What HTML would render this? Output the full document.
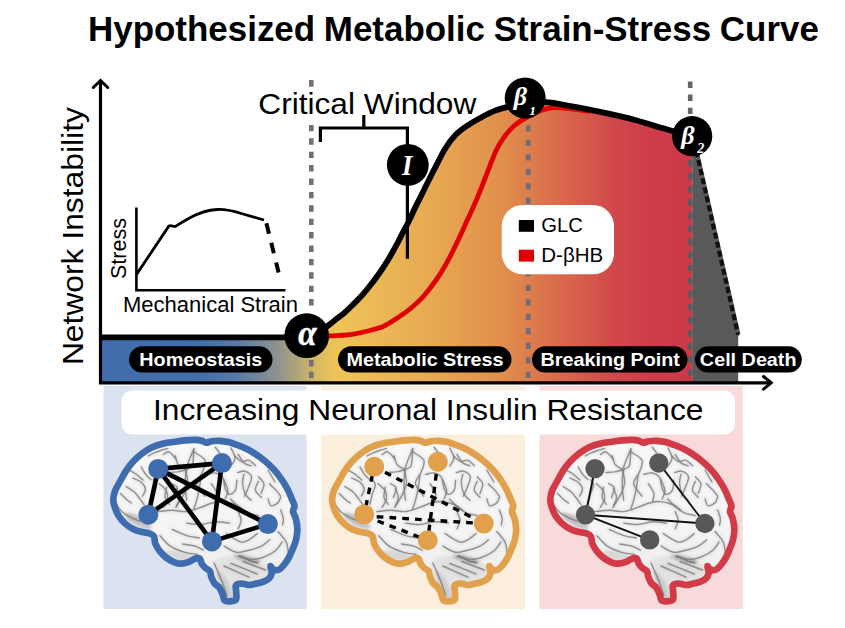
<!DOCTYPE html>
<html><head><meta charset="utf-8">
<style>
html,body{margin:0;padding:0;background:#fff;}
body{width:845px;height:628px;overflow:hidden;font-family:"Liberation Sans",sans-serif;}
svg{display:block;}
text{font-family:"Liberation Sans",sans-serif;fill:#000;}
.ser{font-family:"Liberation Serif",serif;font-weight:bold;font-style:italic;fill:#fff;}
.pill{font-weight:bold;font-size:18.9px;fill:#fff;}
</style></head><body>
<svg width="845" height="628" viewBox="0 0 845 628">
<defs>
<linearGradient id="g" gradientUnits="userSpaceOnUse" x1="100" y1="0" x2="690" y2="0">
<stop offset="0" stop-color="#426dab"/>
<stop offset="0.169" stop-color="#436eac"/>
<stop offset="0.229" stop-color="#5679a8"/>
<stop offset="0.298" stop-color="#8c9190"/>
<stop offset="0.334" stop-color="#afa578"/>
<stop offset="0.364" stop-color="#d4b864"/>
<stop offset="0.40" stop-color="#eec458"/>
<stop offset="0.55" stop-color="#e8ab52"/>
<stop offset="0.68" stop-color="#e0904c"/>
<stop offset="0.80" stop-color="#d8624c"/>
<stop offset="0.87" stop-color="#d1484b"/>
<stop offset="0.93" stop-color="#ce3c4a"/>
<stop offset="1" stop-color="#cc3848"/>
</linearGradient>
<filter id="bl" x="-10%" y="-10%" width="120%" height="120%"><feGaussianBlur stdDeviation="0.6"/></filter>
<filter id="bl2" x="-10%" y="-10%" width="120%" height="120%"><feGaussianBlur stdDeviation="1.6"/></filter>
<linearGradient id="bg" x1="0" y1="0" x2="0" y2="1"><stop offset="0" stop-color="#f8f8f8"/><stop offset="0.6" stop-color="#f4f4f4"/><stop offset="1" stop-color="#e8e8e8"/></linearGradient>
<path id="bo" d="M113.3,499.5 C113.4,496.8 114.0,493.6 115.2,490.5 C116.4,487.4 118.5,484.3 120.3,481.0 C122.1,477.7 123.9,474.0 126.0,470.8 C128.1,467.6 130.3,464.7 133.0,461.8 C135.7,458.9 138.7,456.0 141.9,453.6 C145.1,451.2 148.5,448.9 152.1,447.2 C155.7,445.5 159.8,444.3 163.6,443.4 C167.4,442.5 171.4,442.3 175.0,441.8 C178.6,441.3 181.8,440.7 185.2,440.4 C188.6,440.1 192.6,439.8 195.4,439.9 C198.2,440.0 200.0,440.3 201.8,440.8 C203.6,441.3 204.5,442.6 206.2,442.7 C207.9,442.8 209.7,441.5 211.9,441.2 C214.1,440.9 216.8,440.6 219.6,440.8 C222.4,441.0 225.6,441.4 228.5,442.1 C231.4,442.8 234.0,443.8 237.0,444.9 C240.0,446.0 243.4,447.3 246.4,448.8 C249.4,450.3 252.2,451.9 255.2,453.9 C258.2,455.8 261.3,458.0 264.3,460.5 C267.3,463.0 270.4,465.8 273.2,468.8 C276.0,471.8 278.6,475.0 280.9,478.3 C283.2,481.6 285.4,485.1 287.2,488.5 C289.0,491.9 290.5,495.8 291.7,498.7 C292.9,501.6 294.3,503.9 294.5,506.0 C294.7,508.1 292.8,509.2 293.0,511.4 C293.2,513.6 295.2,516.0 295.9,519.0 C296.6,522.0 297.4,525.8 297.4,529.2 C297.4,532.6 296.8,536.2 296.1,539.4 C295.4,542.6 294.2,545.3 293.0,548.3 C291.8,551.3 290.6,554.4 289.1,557.2 C287.6,560.0 285.8,562.8 284.0,564.9 C282.2,567.0 280.1,569.3 278.3,570.0 C276.5,570.7 274.5,569.9 273.2,569.3 C271.9,568.6 270.6,565.5 270.4,566.1 C270.1,566.8 272.0,571.1 271.7,573.2 C271.4,575.3 270.2,577.2 268.8,578.6 C267.4,580.0 265.4,581.0 263.0,581.9 C260.6,582.8 256.9,583.5 254.5,584.0 C252.2,584.5 251.1,585.1 248.9,585.0 C246.7,584.9 243.7,583.5 241.5,583.5 C239.3,583.5 236.8,584.0 235.9,585.3 C235.0,586.5 236.1,588.7 236.1,591.0 C236.1,593.3 236.9,597.6 236.1,599.3 C235.3,601.0 233.0,601.0 231.1,601.2 C229.2,601.4 226.1,601.7 224.7,600.6 C223.3,599.5 223.7,597.0 222.8,594.9 C222.0,592.8 221.0,589.8 219.6,587.9 C218.2,586.0 215.9,585.2 214.5,583.4 C213.1,581.6 212.1,579.0 211.3,577.0 C210.6,575.0 210.9,572.8 210.0,571.3 C209.1,569.8 207.0,569.4 205.6,568.1 C204.2,566.8 202.8,565.3 201.8,563.7 C200.8,562.1 200.9,559.5 199.8,558.6 C198.7,557.8 197.2,558.1 195.4,558.6 C193.6,559.1 191.3,560.9 189.0,561.8 C186.7,562.6 183.8,563.6 181.4,563.7 C179.0,563.8 177.0,563.3 174.4,562.3 C171.8,561.3 168.5,559.4 166.1,557.5 C163.7,555.6 161.6,553.4 159.8,551.1 C158.0,548.8 156.3,545.9 155.3,543.5 C154.3,541.1 154.9,538.2 154.0,536.5 C153.1,534.8 151.6,534.0 149.6,533.3 C147.6,532.5 144.7,532.7 141.9,532.0 C139.1,531.3 135.9,530.4 133.0,528.9 C130.1,527.4 127.1,525.3 124.7,523.1 C122.3,520.9 120.1,518.2 118.4,515.5 C116.7,512.8 115.4,509.3 114.6,506.6 C113.8,503.9 113.2,502.2 113.3,499.5 Z"/>
<clipPath id="bc"><use href="#bo"/></clipPath>
<g id="brain">
<use href="#bo" fill="url(#bg)"/>
<g clip-path="url(#bc)">
<g filter="url(#bl2)"><path d="M215.8,560.6 C217.1,558.3 223.8,556.7 228.0,556.0 C232.2,555.3 236.2,555.9 240.7,556.4 C245.2,556.9 250.9,557.6 255.0,559.0 C259.1,560.4 263.2,562.5 265.5,564.7 C267.8,566.9 269.4,569.5 269.0,572.0 C268.6,574.5 265.7,578.1 263.0,580.0 C260.3,581.9 257.4,582.8 253.0,583.5 C248.6,584.2 240.8,585.0 236.5,584.4 C232.2,583.8 229.8,582.4 227.0,580.0 C224.2,577.6 221.9,573.2 220.0,570.0 C218.1,566.8 214.5,562.9 215.8,560.6 Z" fill="#e3e3e3"/>
<path d="M218.0,570.0 C219.3,569.8 222.8,574.4 225.0,577.0 C227.2,579.6 229.5,581.9 231.0,585.4 C232.5,588.9 234.3,595.3 234.0,598.0 C233.7,600.7 230.5,601.3 229.0,601.5 C227.5,601.7 226.2,601.2 225.0,599.0 C223.8,596.8 223.3,591.5 222.0,588.0 C220.7,584.5 217.7,581.0 217.0,578.0 C216.3,575.0 216.7,570.2 218.0,570.0 Z" fill="#d0d0d0"/>
<ellipse cx="138" cy="521" rx="15" ry="5" transform="rotate(28 138 521)" fill="#b0b0b0" fill-opacity="0.7"/>
<ellipse cx="178" cy="556" rx="16" ry="4" transform="rotate(12 178 556)" fill="#bdbdbd" fill-opacity="0.5"/>
<ellipse cx="247" cy="559" rx="14" ry="3" transform="rotate(12 247 559)" fill="#9a9a9a" fill-opacity="0.6"/></g>
<g filter="url(#bl2)" fill="none" stroke="#909090" stroke-width="3.2" stroke-opacity="0.2" stroke-linecap="round"><path d="M193.8,448.6 C193.6,451.5 193.6,462.2 192.4,465.8 C191.2,469.4 187.9,466.8 186.7,470.1 C185.5,473.4 185.2,480.8 185.2,485.8 C185.2,490.8 186.5,497.8 186.7,500.2"/>
<path d="M175.2,455.8 C175.7,457.2 176.4,462.1 178.1,464.4 C179.8,466.7 184.0,468.6 185.2,469.4"/>
<path d="M201.0,475.8 C200.8,477.7 200.2,483.2 199.5,487.3 C198.8,491.4 197.7,496.6 196.7,500.2 C195.8,503.8 194.3,507.4 193.8,508.8"/>
<path d="M206.7,474.4 C208.1,474.2 212.7,472.5 215.3,473.0 C217.9,473.5 220.8,474.6 222.5,477.2 C224.2,479.8 224.1,485.8 225.3,488.7 C226.5,491.6 227.9,494.2 229.6,494.4 C231.3,494.6 234.2,492.5 235.4,490.1 C236.6,487.7 236.6,481.8 236.8,480.1"/>
<path d="M244.0,474.4 C243.8,475.8 242.3,479.7 242.5,483.0 C242.7,486.3 244.0,491.5 245.4,494.4 C246.8,497.3 250.2,499.2 251.1,500.2"/>
<path d="M158.0,511.6 C160.4,511.4 167.5,510.2 172.3,510.2 C177.1,510.2 181.9,512.1 186.7,511.6 C191.5,511.1 196.7,508.7 201.0,507.3 C205.3,505.9 208.6,503.9 212.4,503.0 C216.2,502.1 220.1,501.4 223.9,501.6 C227.7,501.9 232.0,503.1 235.4,504.5 C238.7,505.9 242.6,509.2 244.0,510.2"/>
<path d="M166.6,487.3 C166.4,489.0 164.7,494.4 165.2,497.3 C165.7,500.2 168.8,503.3 169.5,504.5"/>
<path d="M176.6,488.7 C177.1,490.1 179.5,494.4 179.5,497.3 C179.5,500.2 177.1,504.5 176.6,505.9"/>
<path d="M215.3,447.2 C216.0,448.1 218.9,451.9 219.6,452.9"/>
<path d="M238.2,454.3 C239.2,455.7 241.8,461.0 244.0,462.9 C246.2,464.8 249.9,465.3 251.1,465.8"/>
<path d="M258.3,481.5 C257.8,482.9 254.9,487.5 255.4,490.1 C255.9,492.7 260.2,496.1 261.2,497.3"/>
<path d="M186.7,523.1 C189.1,523.3 196.2,524.7 201.0,524.5 C205.8,524.3 210.5,521.9 215.3,521.7 C220.1,521.5 227.2,522.9 229.6,523.1"/>
<path d="M238.2,511.6 C238.7,513.0 241.1,517.3 241.1,520.2 C241.1,523.1 238.7,527.4 238.2,528.8"/>
<path d="M168.9,472.6 C170.3,472.5 174.5,472.3 177.3,471.9 C180.1,471.4 184.2,470.2 185.6,469.9"/>
<path d="M185.6,469.9 C186.3,468.0 188.3,462.3 189.7,458.8 C191.1,455.3 193.2,450.7 193.9,449.1"/>
<path d="M185.6,469.9 C185.9,472.0 187.8,478.4 187.6,482.3 C187.4,486.2 186.2,489.2 184.2,493.4 C182.3,497.6 177.3,505.0 175.9,507.3"/>
<path d="M163.4,454.6 C164.3,454.2 166.8,451.2 168.9,451.9 C171.0,452.6 174.7,457.6 175.9,458.8"/>
<path d="M193.9,451.9 C195.7,453.3 203.6,456.8 205.0,460.2 C206.4,463.6 203.6,468.7 202.2,472.6 C200.8,476.5 196.1,479.8 196.6,483.7 C197.1,487.6 203.6,494.1 205.0,496.2"/>
<path d="M148.2,456.0 C149.1,455.5 151.6,454.1 153.7,453.2 C155.8,452.3 158.3,451.3 160.6,450.5 C162.9,449.7 166.4,448.8 167.6,448.4"/>
<path d="M141.2,467.1 C141.9,468.2 143.8,471.9 145.4,474.0 C147.0,476.1 150.0,478.7 150.9,479.6"/>
<path d="M132.9,478.2 C134.3,478.9 139.1,480.5 141.2,482.3 C143.3,484.1 145.2,486.9 145.4,489.2 C145.6,491.5 143.1,495.0 142.6,496.2"/>
<path d="M126.0,486.5 C127.4,487.4 132.0,489.9 134.3,492.0 C136.6,494.1 138.3,496.8 139.9,498.9 C141.5,501.0 143.3,503.6 144.0,504.5"/>
<path d="M120.5,493.4 C121.4,494.3 124.2,497.3 126.0,498.9 C127.8,500.5 130.6,502.4 131.5,503.1"/>
<path d="M159.2,483.7 C160.4,484.9 164.8,488.1 166.2,490.6 C167.6,493.1 168.1,496.1 167.6,498.9 C167.1,501.7 164.1,505.9 163.4,507.3"/>
<path d="M153.7,479.6 C154.2,480.5 156.5,482.8 156.5,485.1 C156.5,487.4 154.6,490.2 153.7,493.4 C152.8,496.6 151.4,502.6 150.9,504.5"/>
<path d="M171.7,483.7 C172.6,484.4 176.8,485.6 177.3,487.9 C177.8,490.2 175.0,496.0 174.5,497.6"/>
<path d="M116.3,504.5 C117.4,505.9 120.4,510.5 123.2,512.8 C126.0,515.1 130.1,516.9 132.9,518.3 C135.7,519.7 138.7,520.6 139.9,521.1"/>
<path d="M129.0,470.0 C130.2,470.7 133.7,472.3 136.0,474.0 C138.3,475.7 141.8,479.0 143.0,480.0"/>
<path d="M234.9,456.0 C236.0,456.9 239.5,460.8 241.8,461.5 C244.1,462.2 246.4,459.5 248.7,460.2 C251.0,460.9 254.5,464.8 255.6,465.7"/>
<path d="M237.6,472.6 C238.8,472.4 242.3,470.5 244.6,471.2 C246.9,471.9 250.8,474.2 251.5,476.8 C252.2,479.4 249.9,483.3 248.7,486.5 C247.6,489.7 245.3,494.6 244.6,496.2"/>
<path d="M223.8,479.6 C224.5,481.4 227.7,487.4 227.9,490.6 C228.1,493.8 225.7,497.5 225.2,498.9"/>
<path d="M258.4,476.8 C259.3,477.9 263.4,480.9 263.9,483.7 C264.4,486.5 261.7,491.8 261.2,493.4"/>
<path d="M268.1,498.9 C268.6,500.0 269.3,505.0 270.9,505.7 C272.5,506.4 276.2,504.4 277.8,503.0 C279.4,501.6 280.1,498.3 280.6,497.4"/>
<path d="M269.5,483.7 C270.6,484.9 274.5,488.5 276.4,490.6 C278.2,492.7 279.9,495.3 280.6,496.2"/>
<path d="M211.3,483.7 C212.2,485.3 216.2,490.4 216.9,493.4 C217.6,496.4 215.7,500.3 215.5,501.7"/>
<path d="M230.7,498.9 C232.1,500.3 236.2,505.0 239.0,507.3 C241.8,509.6 244.1,511.4 247.3,512.8 C250.5,514.2 256.5,515.1 258.4,515.6"/>
<path d="M280.6,510.0 C281.1,511.4 283.0,515.8 283.3,518.3 C283.6,520.8 282.7,523.9 282.6,525.0"/>
<path d="M231.0,448.0 C231.7,449.7 235.0,455.0 235.0,458.0 C235.0,461.0 231.7,464.7 231.0,466.0"/>
<path d="M268.0,470.0 C269.2,472.0 273.8,480.0 275.0,482.0"/>
<path d="M159.9,535.7 C161.6,537.4 166.1,543.3 170.3,546.1 C174.4,548.9 180.3,550.9 184.8,552.3 C189.3,553.7 195.1,554.0 197.2,554.3"/>
<path d="M172.3,529.5 C174.7,530.5 182.3,534.3 186.8,535.7 C191.3,537.1 197.2,537.4 199.3,537.8"/>
<path d="M182.7,544.0 C184.8,544.4 191.7,545.1 195.1,546.1 C198.6,547.1 202.0,549.5 203.4,550.2"/>
<path d="M226.2,533.6 C228.6,535.0 236.9,540.9 240.7,541.9 C244.5,542.9 246.2,541.2 249.0,539.8 C251.8,538.4 255.8,534.6 257.2,533.6"/>
<path d="M224.1,546.1 C226.2,547.1 232.3,551.6 236.5,552.3 C240.7,553.0 244.8,551.2 249.0,550.2 C253.2,549.2 257.9,547.8 261.4,546.1 C264.8,544.4 268.3,540.8 269.7,539.8"/>
<path d="M238.6,556.4 C241.0,556.9 248.6,559.5 253.1,559.5 C257.6,559.5 261.7,557.9 265.5,556.4 C269.3,554.9 273.1,552.6 275.9,550.2 C278.7,547.8 281.1,543.3 282.1,541.9"/>
<path d="M278.0,531.6 C279.4,533.3 284.5,538.5 286.2,541.9 C287.9,545.3 287.9,550.6 288.3,552.3"/>
<path d="M224.0,566.0 C228.2,567.9 244.8,575.2 249.0,577.1"/>
<path d="M231.0,563.5 C235.4,565.2 252.8,572.2 257.2,574.0"/>
<path d="M243.0,561.5 C246.8,562.9 261.8,568.6 265.5,570.0"/>
<path d="M239.5,556.0 C240.4,556.3 242.8,557.1 244.7,558.0 C246.7,558.9 249.0,560.5 251.2,561.3 C253.4,562.1 256.6,562.4 257.7,562.6"/>
<path d="M239.5,556.0 C240.4,556.3 242.8,557.1 244.7,558.0 C246.7,558.9 249.0,560.5 251.2,561.3 C253.4,562.1 256.6,562.4 257.7,562.6"/>
<path d="M214.0,563.0 C214.7,564.5 216.5,568.5 218.0,572.0 C219.5,575.5 221.5,580.0 223.0,584.0 C224.5,588.0 226.3,594.0 227.0,596.0"/></g>
<g filter="url(#bl)" fill="none" stroke="#7a7a7a" stroke-width="1.4" stroke-opacity="0.8" stroke-linecap="round"><path d="M193.8,448.6 C193.6,451.5 193.6,462.2 192.4,465.8 C191.2,469.4 187.9,466.8 186.7,470.1 C185.5,473.4 185.2,480.8 185.2,485.8 C185.2,490.8 186.5,497.8 186.7,500.2"/>
<path d="M175.2,455.8 C175.7,457.2 176.4,462.1 178.1,464.4 C179.8,466.7 184.0,468.6 185.2,469.4"/>
<path d="M201.0,475.8 C200.8,477.7 200.2,483.2 199.5,487.3 C198.8,491.4 197.7,496.6 196.7,500.2 C195.8,503.8 194.3,507.4 193.8,508.8"/>
<path d="M206.7,474.4 C208.1,474.2 212.7,472.5 215.3,473.0 C217.9,473.5 220.8,474.6 222.5,477.2 C224.2,479.8 224.1,485.8 225.3,488.7 C226.5,491.6 227.9,494.2 229.6,494.4 C231.3,494.6 234.2,492.5 235.4,490.1 C236.6,487.7 236.6,481.8 236.8,480.1"/>
<path d="M244.0,474.4 C243.8,475.8 242.3,479.7 242.5,483.0 C242.7,486.3 244.0,491.5 245.4,494.4 C246.8,497.3 250.2,499.2 251.1,500.2"/>
<path d="M158.0,511.6 C160.4,511.4 167.5,510.2 172.3,510.2 C177.1,510.2 181.9,512.1 186.7,511.6 C191.5,511.1 196.7,508.7 201.0,507.3 C205.3,505.9 208.6,503.9 212.4,503.0 C216.2,502.1 220.1,501.4 223.9,501.6 C227.7,501.9 232.0,503.1 235.4,504.5 C238.7,505.9 242.6,509.2 244.0,510.2"/>
<path d="M166.6,487.3 C166.4,489.0 164.7,494.4 165.2,497.3 C165.7,500.2 168.8,503.3 169.5,504.5"/>
<path d="M176.6,488.7 C177.1,490.1 179.5,494.4 179.5,497.3 C179.5,500.2 177.1,504.5 176.6,505.9"/>
<path d="M215.3,447.2 C216.0,448.1 218.9,451.9 219.6,452.9"/>
<path d="M238.2,454.3 C239.2,455.7 241.8,461.0 244.0,462.9 C246.2,464.8 249.9,465.3 251.1,465.8"/>
<path d="M258.3,481.5 C257.8,482.9 254.9,487.5 255.4,490.1 C255.9,492.7 260.2,496.1 261.2,497.3"/>
<path d="M186.7,523.1 C189.1,523.3 196.2,524.7 201.0,524.5 C205.8,524.3 210.5,521.9 215.3,521.7 C220.1,521.5 227.2,522.9 229.6,523.1"/>
<path d="M238.2,511.6 C238.7,513.0 241.1,517.3 241.1,520.2 C241.1,523.1 238.7,527.4 238.2,528.8"/>
<path d="M168.9,472.6 C170.3,472.5 174.5,472.3 177.3,471.9 C180.1,471.4 184.2,470.2 185.6,469.9"/>
<path d="M185.6,469.9 C186.3,468.0 188.3,462.3 189.7,458.8 C191.1,455.3 193.2,450.7 193.9,449.1"/>
<path d="M185.6,469.9 C185.9,472.0 187.8,478.4 187.6,482.3 C187.4,486.2 186.2,489.2 184.2,493.4 C182.3,497.6 177.3,505.0 175.9,507.3"/>
<path d="M163.4,454.6 C164.3,454.2 166.8,451.2 168.9,451.9 C171.0,452.6 174.7,457.6 175.9,458.8"/>
<path d="M193.9,451.9 C195.7,453.3 203.6,456.8 205.0,460.2 C206.4,463.6 203.6,468.7 202.2,472.6 C200.8,476.5 196.1,479.8 196.6,483.7 C197.1,487.6 203.6,494.1 205.0,496.2"/>
<path d="M148.2,456.0 C149.1,455.5 151.6,454.1 153.7,453.2 C155.8,452.3 158.3,451.3 160.6,450.5 C162.9,449.7 166.4,448.8 167.6,448.4"/>
<path d="M141.2,467.1 C141.9,468.2 143.8,471.9 145.4,474.0 C147.0,476.1 150.0,478.7 150.9,479.6"/>
<path d="M132.9,478.2 C134.3,478.9 139.1,480.5 141.2,482.3 C143.3,484.1 145.2,486.9 145.4,489.2 C145.6,491.5 143.1,495.0 142.6,496.2"/>
<path d="M126.0,486.5 C127.4,487.4 132.0,489.9 134.3,492.0 C136.6,494.1 138.3,496.8 139.9,498.9 C141.5,501.0 143.3,503.6 144.0,504.5"/>
<path d="M120.5,493.4 C121.4,494.3 124.2,497.3 126.0,498.9 C127.8,500.5 130.6,502.4 131.5,503.1"/>
<path d="M159.2,483.7 C160.4,484.9 164.8,488.1 166.2,490.6 C167.6,493.1 168.1,496.1 167.6,498.9 C167.1,501.7 164.1,505.9 163.4,507.3"/>
<path d="M153.7,479.6 C154.2,480.5 156.5,482.8 156.5,485.1 C156.5,487.4 154.6,490.2 153.7,493.4 C152.8,496.6 151.4,502.6 150.9,504.5"/>
<path d="M171.7,483.7 C172.6,484.4 176.8,485.6 177.3,487.9 C177.8,490.2 175.0,496.0 174.5,497.6"/>
<path d="M116.3,504.5 C117.4,505.9 120.4,510.5 123.2,512.8 C126.0,515.1 130.1,516.9 132.9,518.3 C135.7,519.7 138.7,520.6 139.9,521.1"/>
<path d="M129.0,470.0 C130.2,470.7 133.7,472.3 136.0,474.0 C138.3,475.7 141.8,479.0 143.0,480.0"/>
<path d="M234.9,456.0 C236.0,456.9 239.5,460.8 241.8,461.5 C244.1,462.2 246.4,459.5 248.7,460.2 C251.0,460.9 254.5,464.8 255.6,465.7"/>
<path d="M237.6,472.6 C238.8,472.4 242.3,470.5 244.6,471.2 C246.9,471.9 250.8,474.2 251.5,476.8 C252.2,479.4 249.9,483.3 248.7,486.5 C247.6,489.7 245.3,494.6 244.6,496.2"/>
<path d="M223.8,479.6 C224.5,481.4 227.7,487.4 227.9,490.6 C228.1,493.8 225.7,497.5 225.2,498.9"/>
<path d="M258.4,476.8 C259.3,477.9 263.4,480.9 263.9,483.7 C264.4,486.5 261.7,491.8 261.2,493.4"/>
<path d="M268.1,498.9 C268.6,500.0 269.3,505.0 270.9,505.7 C272.5,506.4 276.2,504.4 277.8,503.0 C279.4,501.6 280.1,498.3 280.6,497.4"/>
<path d="M269.5,483.7 C270.6,484.9 274.5,488.5 276.4,490.6 C278.2,492.7 279.9,495.3 280.6,496.2"/>
<path d="M211.3,483.7 C212.2,485.3 216.2,490.4 216.9,493.4 C217.6,496.4 215.7,500.3 215.5,501.7"/>
<path d="M230.7,498.9 C232.1,500.3 236.2,505.0 239.0,507.3 C241.8,509.6 244.1,511.4 247.3,512.8 C250.5,514.2 256.5,515.1 258.4,515.6"/>
<path d="M280.6,510.0 C281.1,511.4 283.0,515.8 283.3,518.3 C283.6,520.8 282.7,523.9 282.6,525.0"/>
<path d="M231.0,448.0 C231.7,449.7 235.0,455.0 235.0,458.0 C235.0,461.0 231.7,464.7 231.0,466.0"/>
<path d="M268.0,470.0 C269.2,472.0 273.8,480.0 275.0,482.0"/>
<path d="M159.9,535.7 C161.6,537.4 166.1,543.3 170.3,546.1 C174.4,548.9 180.3,550.9 184.8,552.3 C189.3,553.7 195.1,554.0 197.2,554.3"/>
<path d="M172.3,529.5 C174.7,530.5 182.3,534.3 186.8,535.7 C191.3,537.1 197.2,537.4 199.3,537.8"/>
<path d="M182.7,544.0 C184.8,544.4 191.7,545.1 195.1,546.1 C198.6,547.1 202.0,549.5 203.4,550.2"/>
<path d="M226.2,533.6 C228.6,535.0 236.9,540.9 240.7,541.9 C244.5,542.9 246.2,541.2 249.0,539.8 C251.8,538.4 255.8,534.6 257.2,533.6"/>
<path d="M224.1,546.1 C226.2,547.1 232.3,551.6 236.5,552.3 C240.7,553.0 244.8,551.2 249.0,550.2 C253.2,549.2 257.9,547.8 261.4,546.1 C264.8,544.4 268.3,540.8 269.7,539.8"/>
<path d="M238.6,556.4 C241.0,556.9 248.6,559.5 253.1,559.5 C257.6,559.5 261.7,557.9 265.5,556.4 C269.3,554.9 273.1,552.6 275.9,550.2 C278.7,547.8 281.1,543.3 282.1,541.9"/>
<path d="M278.0,531.6 C279.4,533.3 284.5,538.5 286.2,541.9 C287.9,545.3 287.9,550.6 288.3,552.3"/>
<path d="M224.0,566.0 C228.2,567.9 244.8,575.2 249.0,577.1"/>
<path d="M231.0,563.5 C235.4,565.2 252.8,572.2 257.2,574.0"/>
<path d="M243.0,561.5 C246.8,562.9 261.8,568.6 265.5,570.0"/>
<path d="M239.5,556.0 C240.4,556.3 242.8,557.1 244.7,558.0 C246.7,558.9 249.0,560.5 251.2,561.3 C253.4,562.1 256.6,562.4 257.7,562.6"/>
<path d="M239.5,556.0 C240.4,556.3 242.8,557.1 244.7,558.0 C246.7,558.9 249.0,560.5 251.2,561.3 C253.4,562.1 256.6,562.4 257.7,562.6"/>
<path d="M214.0,563.0 C214.7,564.5 216.5,568.5 218.0,572.0 C219.5,575.5 221.5,580.0 223.0,584.0 C224.5,588.0 226.3,594.0 227.0,596.0"/></g>
</g>
</g>
</defs>

<!-- title -->
<text x="88" y="40.5" font-size="34.95" word-spacing="-1.0" font-weight="bold">Hypothesized Metabolic Strain-Stress Curve</text>

<!-- panels -->
<rect x="103.5" y="386" width="203" height="223" fill="#dbe3f0"/>
<rect x="321.3" y="386" width="203.7" height="223" fill="#fbeedd"/>
<rect x="539.5" y="386" width="203.3" height="223" fill="#f9dadb"/>
<rect x="121.5" y="390.5" width="613.5" height="44" rx="11" fill="#fff"/>
<text transform="translate(153,419.6) scale(1.046,1)" font-size="30.35">Increasing Neuronal Insulin Resistance</text>

<!-- filled area -->
<path id="area" d="M100,337.3 L306.5,337.3 C308.4,336.6 314.4,334.8 318.0,332.8 C321.6,330.9 325.0,327.9 328.0,325.6 C331.0,323.4 333.4,321.4 336.0,319.3 C338.6,317.2 341.3,315.4 343.9,313.2 C346.5,311.0 348.9,308.6 351.5,306.0 C354.1,303.4 357.1,300.7 359.8,297.8 C362.5,294.9 364.9,292.1 367.8,288.5 C370.7,284.9 374.1,280.5 377.0,276.5 C379.9,272.5 382.6,268.4 385.1,264.6 C387.6,260.8 389.7,257.2 391.8,253.5 C393.9,249.8 395.9,246.0 397.9,242.3 C399.8,238.6 401.8,234.5 403.5,231.2 C405.2,227.9 406.1,226.6 408.2,222.5 C410.2,218.4 412.9,212.3 415.8,206.4 C418.7,200.5 422.1,193.7 425.3,187.3 C428.5,180.9 431.5,174.7 434.9,168.2 C438.2,161.7 441.9,153.8 445.4,148.2 C448.9,142.6 452.3,138.3 455.9,134.6 C459.5,130.9 462.6,128.8 467.0,125.8 C471.4,122.8 477.7,119.2 482.4,116.7 C487.1,114.2 491.1,112.2 495.1,110.6 C499.1,109.0 501.6,108.3 506.6,107.1 C511.6,105.9 518.7,104.0 525.0,103.2 C531.3,102.4 536.5,101.5 544.3,102.0 C552.1,102.5 562.1,104.5 572.0,106.3 C581.9,108.1 593.2,110.4 603.9,112.7 C614.5,115.0 626.7,117.8 635.9,120.2 C645.1,122.6 653.1,125.4 659.3,127.2 C665.5,129.0 667.8,129.6 673.2,131.2 C678.7,132.8 688.9,135.6 692.0,136.5 L692.4,382 L100,382 Z" fill="url(#g)"/>
<path d="M692.2,140 L697.5,146 L740.2,333 L738.2,337 L738.2,382 L692.2,382 Z" fill="#595959"/>

<!-- dashed verticals -->
<g stroke="#776d72" stroke-width="4.6" fill="none">
<line x1="311.3" y1="80" x2="311.3" y2="86.7"/>
<line x1="311.3" y1="124.9" x2="311.3" y2="306" stroke-dasharray="6.4 7"/>
<line x1="311.3" y1="360" x2="311.3" y2="366.5" stroke="#74707c"/>
<line x1="311.3" y1="371.7" x2="311.3" y2="378.2" stroke="#74707c"/>
<line x1="528.2" y1="125.2" x2="528.2" y2="381" stroke="#6e6e7c" stroke-dasharray="6.4 8.1"/>
<line x1="690.2" y1="81.5" x2="690.2" y2="120" stroke="#6a6267" stroke-dasharray="6.4 6.7"/>
<line x1="690.2" y1="160" x2="690.2" y2="381" stroke="#5d5b5d" stroke-dasharray="6.4 6.7"/>
</g>
<!-- red curve -->
<path d="M306.5,336.3 C310.6,336.2 323.6,336.1 331.2,335.8 C338.8,335.5 345.8,335.1 351.9,334.3 C358.0,333.5 362.5,332.4 367.8,331.0 C373.1,329.6 378.6,328.4 383.7,326.2 C388.8,323.9 393.5,320.5 398.1,317.5 C402.7,314.5 406.8,311.7 411.1,308.0 C415.5,304.3 419.6,300.8 424.2,295.5 C428.8,290.2 434.6,282.3 438.6,276.4 C442.6,270.5 445.0,266.1 448.2,260.2 C451.4,254.3 454.5,247.8 457.7,241.1 C460.9,234.4 464.1,227.1 467.3,220.1 C470.5,213.1 473.8,206.2 476.8,199.1 C479.8,192.0 482.2,185.5 485.4,177.5 C488.6,169.5 492.8,157.7 495.9,151.0 C499.0,144.3 501.2,141.3 503.9,137.5 C506.6,133.7 509.2,130.6 511.9,127.9 C514.5,125.2 517.1,123.3 519.8,121.5 C522.4,119.7 525.3,118.4 527.8,117.0 C530.3,115.6 532.4,114.2 535.0,113.0 C537.6,111.8 540.5,110.4 543.6,109.5 C546.7,108.6 548.9,107.7 553.6,107.6 C558.3,107.5 565.9,108.1 572.0,108.8 C578.1,109.5 587.0,111.0 590.0,111.5" fill="none" stroke="#e00000" stroke-width="4.8"/>

<!-- black curve -->
<path d="M100,337.3 L306.5,337.3 C308.4,336.6 314.4,334.8 318.0,332.8 C321.6,330.9 325.0,327.9 328.0,325.6 C331.0,323.4 333.4,321.4 336.0,319.3 C338.6,317.2 341.3,315.4 343.9,313.2 C346.5,311.0 348.9,308.6 351.5,306.0 C354.1,303.4 357.1,300.7 359.8,297.8 C362.5,294.9 364.9,292.1 367.8,288.5 C370.7,284.9 374.1,280.5 377.0,276.5 C379.9,272.5 382.6,268.4 385.1,264.6 C387.6,260.8 389.7,257.2 391.8,253.5 C393.9,249.8 395.9,246.0 397.9,242.3 C399.8,238.6 401.8,234.5 403.5,231.2 C405.2,227.9 406.1,226.6 408.2,222.5 C410.2,218.4 412.9,212.3 415.8,206.4 C418.7,200.5 422.1,193.7 425.3,187.3 C428.5,180.9 431.5,174.7 434.9,168.2 C438.2,161.7 441.9,153.8 445.4,148.2 C448.9,142.6 452.3,138.3 455.9,134.6 C459.5,130.9 462.6,128.8 467.0,125.8 C471.4,122.8 477.7,119.2 482.4,116.7 C487.1,114.2 491.1,112.2 495.1,110.6 C499.1,109.0 501.6,108.3 506.6,107.1 C511.6,105.9 518.7,104.0 525.0,103.2 C531.3,102.4 536.5,101.5 544.3,102.0 C552.1,102.5 562.1,104.5 572.0,106.3 C581.9,108.1 593.2,110.4 603.9,112.7 C614.5,115.0 626.7,117.8 635.9,120.2 C645.1,122.6 653.1,125.4 659.3,127.2 C665.5,129.0 667.8,129.6 673.2,131.2 C678.7,132.8 688.9,135.6 692.0,136.5" fill="none" stroke="#000" stroke-width="5.8" stroke-linejoin="round"/>
<path d="M696.3,151 L738.1,334.6" fill="none" stroke="#111" stroke-width="4.2" stroke-dasharray="6.1 3.2"/>

<!-- axes -->
<path d="M100.500,384 L100.500,80.500" stroke="#000" stroke-width="3.2" fill="none"/>
<path d="M93.300,87.500 L100.500,80.500 L107.700,87.500" stroke="#000" stroke-width="3" fill="none" stroke-linecap="round" stroke-linejoin="miter"/>
<path d="M99,382.800 L771,382.800" stroke="#000" stroke-width="3.2" fill="none"/>
<path d="M763.500,376.500 L771.200,382.800 L763.500,389.100" stroke="#000" stroke-width="3" fill="none" stroke-linecap="round"/>
<text transform="translate(82.6,365.1) rotate(-90) scale(1.05,1)" font-size="30.3">Network Instability</text>

<!-- critical window -->
<text transform="translate(258.3,114) scale(1.045,1)" font-size="30.3">Critical Window</text>
<path d="M320.400,142 L320.400,128 L407.400,128 L407.400,258.700 M363.800,128 L363.800,115" fill="none" stroke="#000" stroke-width="3.2"/>

<!-- circles -->
<circle cx="407.800" cy="164.900" r="20.900" fill="#000"/>
<text class="ser" transform="translate(407.300,174.900) scale(0.9,1)" font-size="29.700" text-anchor="middle">I</text>
<circle cx="306.700" cy="335.700" r="22.400" fill="#000"/>
<text class="ser" transform="translate(307.500,344.600) scale(0.92,1)" font-size="36" text-anchor="middle" stroke="#fff" stroke-width="0.5">α</text>
<circle cx="525.200" cy="98" r="20.500" fill="#000"/>
<text class="ser" x="520.500" y="105" font-size="26" text-anchor="middle">β</text>
<text class="ser" x="532.500" y="114.600" font-size="13.500" text-anchor="middle">1</text>
<circle cx="692.200" cy="136.200" r="20.100" fill="#000"/>
<text class="ser" x="688" y="143.500" font-size="26" text-anchor="middle">β</text>
<text class="ser" x="700.800" y="152.600" font-size="14" text-anchor="middle">2</text>

<!-- legend -->
<rect x="501.700" y="205" width="112.300" height="69.300" rx="21" fill="#fff"/>
<rect x="518.800" y="220" width="15.200" height="11.800" fill="#000"/>
<rect x="518.800" y="249.700" width="15.200" height="11.900" fill="#e00000"/>
<text x="541.3" y="232" font-size="20.2">GLC</text>
<text x="541.3" y="261.6" font-size="20.5">D-βHB</text>

<!-- pills -->
<rect x="129" y="346.300" width="143.500" height="26.200" rx="13.100" fill="#000"/>
<text class="pill" transform="translate(200.800,366.200) scale(1.047,1)" text-anchor="middle">Homeostasis</text>
<rect x="338" y="346.300" width="173.500" height="26.200" rx="13.100" fill="#000"/>
<text class="pill" transform="translate(425,366.200) scale(1.047,1)" text-anchor="middle">Metabolic Stress</text>
<rect x="532" y="346.300" width="155.500" height="26.200" rx="13.100" fill="#000"/>
<text class="pill" transform="translate(610.200,366.200) scale(1.047,1)" text-anchor="middle">Breaking Point</text>
<rect x="695" y="346.300" width="106.800" height="26.200" rx="13.100" fill="#000"/>
<text class="pill" transform="translate(748.200,366.200) scale(1.047,1)" text-anchor="middle">Cell Death</text>

<!-- inset -->
<path d="M136.400,207.500 L136.400,290.200 L285.500,290.200" fill="none" stroke="#000" stroke-width="2.600"/>
<path d="M136.400,274.600 L169,225.900 C171,224.500 173,227 175.500,226.400 C180,223.500 186,220 191,217.300 C199,213 208,210 217,209.500 C226,209 235,211.500 243,214 C250,216 257,218 264,220" fill="none" stroke="#000" stroke-width="2.800" stroke-linejoin="round"/>
<path d="M266.400,223.200 L278.600,272.500" fill="none" stroke="#000" stroke-width="4" stroke-dasharray="10.8 9.4"/>
<text transform="translate(126,279) rotate(-90)" font-size="21.500">Stress</text>
<text x="123" y="312.400" font-size="22">Mechanical Strain</text>

<!-- brains -->
<g id="b1">
<use href="#brain"/>
<use href="#bo" fill="none" stroke="#3f6cae" stroke-width="6.700" stroke-linejoin="round"/>
<g stroke="#000" stroke-width="4.6" stroke-linecap="round">
<line x1="158.2" y1="468.9" x2="221.9" y2="463.1"/>
<line x1="158.2" y1="468.9" x2="148.3" y2="514.8"/>
<line x1="158.2" y1="468.9" x2="211.9" y2="541.4"/>
<line x1="158.2" y1="468.9" x2="267.9" y2="524.1"/>
<line x1="221.9" y1="463.1" x2="148.3" y2="514.8"/>
<line x1="221.9" y1="463.1" x2="211.9" y2="541.4"/>
<line x1="211.9" y1="541.4" x2="267.9" y2="524.1"/>
</g>
<g fill="#3f6cae">
<circle cx="158.2" cy="468.9" r="10"/><circle cx="221.9" cy="463.1" r="10"/><circle cx="148.3" cy="514.8" r="10"/><circle cx="211.9" cy="541.4" r="10"/><circle cx="267.9" cy="524.1" r="10"/>
</g>
</g>
<g id="b2">
<g transform="translate(218.800,0)">
<use href="#brain"/>
<use href="#bo" fill="none" stroke="#e0a04c" stroke-width="6.700" stroke-linejoin="round"/>
</g>
<g stroke="#000" stroke-width="3.4" stroke-dasharray="6.7 6.1">
<line x1="372.4" y1="475" x2="364.2" y2="514.4"/>
<line x1="385" y1="472.3" x2="483.8" y2="523.6"/>
<line x1="436.3" y1="474" x2="427.7" y2="540.3"/>
<line x1="376.700" y1="516.700" x2="483.8" y2="523.6"/>
<line x1="377.600" y1="521" x2="427.7" y2="540.3"/>
</g>
<g fill="#e0a04c">
<circle cx="374.2" cy="466.7" r="10"/><circle cx="437.8" cy="461.7" r="10"/><circle cx="364.2" cy="514.4" r="10"/><circle cx="427.7" cy="540.3" r="10"/><circle cx="483.8" cy="523.6" r="10"/>
</g>
</g>
<g id="b3" transform="translate(437,0)">
<use href="#brain"/>
<use href="#bo" fill="none" stroke="#d23a48" stroke-width="6.700" stroke-linejoin="round"/>
<g stroke="#111" stroke-width="1.9" transform="translate(-437,0)">
<line x1="595" y1="468.6" x2="585.5" y2="514.8"/>
<line x1="658.8" y1="463" x2="704.9" y2="523.5"/>
<line x1="585.5" y1="514.8" x2="704.9" y2="523.5"/>
<line x1="585.5" y1="514.8" x2="649.7" y2="539.9"/>
</g>
<g fill="#585858" transform="translate(-437,0)">
<circle cx="595" cy="468.6" r="9.7"/><circle cx="658.8" cy="463" r="9.7"/><circle cx="585.5" cy="514.8" r="9.7"/><circle cx="649.7" cy="539.9" r="9.7"/><circle cx="704.9" cy="523.5" r="9.7"/>
</g>
</g>
</svg>
</body></html>
